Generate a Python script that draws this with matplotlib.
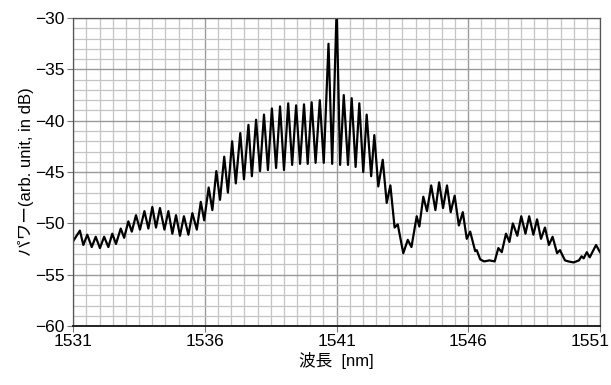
import numpy as np
import matplotlib
matplotlib.use("Agg")
import matplotlib.pyplot as plt
import matplotlib.transforms as mtransforms
from matplotlib.ticker import MultipleLocator

plt.rcParams['font.family'] = ['Liberation Sans', 'Noto Sans CJK JP', 'DejaVu Sans']
plt.rcParams['axes.unicode_minus'] = True

# spectrum (peaks / troughs of the ripple)
wavelength = [
    1531.00, 1531.25, 1531.38, 1531.53, 1531.70, 1531.85, 1532.01, 1532.17, 1532.33, 1532.48,
    1532.62, 1532.80, 1532.93, 1533.09, 1533.22, 1533.38, 1533.53, 1533.70, 1533.85, 1534.00,
    1534.14, 1534.29, 1534.46, 1534.61, 1534.76, 1534.90, 1535.05, 1535.20, 1535.37, 1535.52,
    1535.69, 1535.84, 1535.97, 1536.14, 1536.28, 1536.43, 1536.57, 1536.73, 1536.87, 1537.03,
    1537.17, 1537.34, 1537.48, 1537.65, 1537.78, 1537.94, 1538.09, 1538.24, 1538.39, 1538.54,
    1538.70, 1538.85, 1539.00, 1539.16, 1539.31, 1539.46, 1539.61, 1539.76, 1539.90, 1540.05,
    1540.20, 1540.36, 1540.51, 1540.69, 1540.83, 1541.00, 1541.13, 1541.27, 1541.43, 1541.57,
    1541.72, 1541.86, 1542.01, 1542.14, 1542.31, 1542.43, 1542.58, 1542.75, 1542.90, 1543.04,
    1543.20, 1543.32, 1543.53, 1543.70, 1543.84, 1544.04, 1544.14, 1544.29, 1544.43, 1544.59,
    1544.75, 1544.89, 1545.04, 1545.19, 1545.33, 1545.48, 1545.64, 1545.79, 1545.94, 1546.07,
    1546.26, 1546.32, 1546.45, 1546.60, 1546.80, 1547.00, 1547.14, 1547.27, 1547.43, 1547.56,
    1547.69, 1547.86, 1548.01, 1548.17, 1548.31, 1548.47, 1548.61, 1548.76, 1548.91, 1549.06,
    1549.20, 1549.37, 1549.48, 1549.67, 1549.80, 1550.00, 1550.20, 1550.30, 1550.38, 1550.50,
    1550.61, 1550.85, 1551.00,
]
power = [
    -51.7, -50.7, -52.1, -51.1, -52.3, -51.3, -52.4, -51.3, -52.3, -51.0,
    -52.0, -50.5, -51.4, -49.8, -50.8, -49.2, -50.6, -48.8, -50.5, -48.4,
    -50.4, -48.5, -50.6, -48.8, -51.0, -49.2, -51.2, -49.3, -51.1, -49.0,
    -50.6, -47.9, -49.7, -46.5, -48.7, -44.9, -47.7, -43.5, -47.0, -42.0,
    -46.1, -41.2, -45.7, -40.4, -45.4, -39.9, -44.9, -39.4, -44.8, -38.8,
    -44.6, -38.6, -44.8, -38.3, -44.3, -38.5, -44.2, -38.4, -44.2, -38.2,
    -44.1, -38.0, -44.1, -32.5, -44.2, -29.0, -44.3, -37.5, -44.3, -37.8,
    -44.5, -38.3, -45.0, -39.4, -45.4, -41.4, -46.4, -43.8, -48.0, -46.3,
    -50.4, -50.1, -52.9, -51.6, -52.3, -49.3, -50.3, -47.4, -48.8, -46.3,
    -48.7, -46.0, -48.5, -46.3, -48.9, -47.3, -50.2, -48.9, -51.5, -50.8,
    -52.7, -52.6, -53.5, -53.7, -53.6, -53.7, -52.4, -52.8, -51.0, -51.8,
    -50.0, -51.2, -49.3, -51.0, -49.3, -51.1, -49.6, -51.5, -50.4, -52.1,
    -51.3, -52.9, -52.6, -53.6, -53.7, -53.8, -53.6, -53.2, -53.4, -52.8,
    -53.3, -52.1, -52.8,
]
xticks = [1531, 1536, 1541, 1546, 1551]
yticks = [-60, -55, -50, -45, -40, -35, -30]

fig = plt.figure(figsize=(6.11, 3.85), dpi=100)
ax = fig.add_axes([0.12, 0.153, 0.862, 0.8])

ax.plot(wavelength, power, color='black', lw=1.6, solid_joinstyle='round')

ax.set_xlim(1531, 1551)
ax.set_ylim(-60, -30)
ax.set_xticks(xticks)
ax.set_yticks(yticks)
ax.xaxis.set_minor_locator(MultipleLocator(0.5))
ax.yaxis.set_minor_locator(MultipleLocator(1))

ax.grid(which='minor', color='#c4c4c4', lw=0.9)
ax.grid(which='major', color='#9a9a9a', lw=1.0)
ax.set_axisbelow(True)

ax.tick_params(which='major', direction='out', length=4, width=0.8, color='#777777',
               labelsize=12.5, pad=2)
ax.tick_params(which='minor', length=0)

# last x label sits at the figure edge, nudge it in a bit
last = ax.get_xticklabels()[-1]
last.set_transform(last.get_transform() +
                   mtransforms.ScaledTranslation(-0.1, 0, fig.dpi_scale_trans))

for s in ['top', 'right', 'left']:
    ax.spines[s].set_color('#555555')
    ax.spines[s].set_linewidth(0.9)
ax.spines['bottom'].set_color('#222222')
ax.spines['bottom'].set_linewidth(1.4)

ax.set_xlabel('波長  [nm]', fontsize=12, labelpad=2)
ax.set_ylabel('パワー(arb. unit, in dB)', fontsize=12, labelpad=1)

fig.savefig('out.png', dpi=100)
